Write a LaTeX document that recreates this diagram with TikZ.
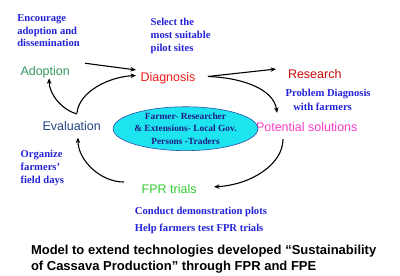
\documentclass[tikz,border=0pt]{standalone}
\usepackage{fontspec}
\setmainfont{Liberation Serif}
\setsansfont{Liberation Sans}
\usetikzlibrary{arrows.meta,shapes.geometric}
\definecolor{adoptgreen}{RGB}{51,150,100}
\definecolor{diagred}{RGB}{245,25,25}
\definecolor{resred}{RGB}{200,10,10}
\definecolor{potmag}{RGB}{250,60,200}
\definecolor{evalnavy}{RGB}{35,70,130}
\definecolor{fprgreen}{RGB}{50,205,50}
\definecolor{noteblue}{RGB}{35,35,215}
\definecolor{hubfill}{RGB}{30,228,240}
\definecolor{hubline}{RGB}{40,80,170}
\definecolor{hubtext}{RGB}{30,30,130}
\begin{document}
\begin{tikzpicture}[x=1pt,y=-1pt,
  lbl/.style={font=\sffamily\fontsize{12.5}{15}\selectfont, inner sep=0pt, outer sep=0pt, anchor=base west},
  note/.style={font=\rmfamily\bfseries\fontsize{10.6}{12.8}\selectfont, text=noteblue, inner sep=0pt, outer sep=0pt, anchor=base west, align=left},
  arr/.style={-{Stealth[length=5.5pt,width=4.5pt]}, line width=1.1pt, black}]
\useasboundingbox[fill=white] (0,0) rectangle (400,276);

% stage labels
\node[lbl, text=adoptgreen] (adopt) at (20.5,75.7) {Adoption};
\node[lbl, text=diagred] (diag) at (140.5,81) {Diagnosis};
\node[lbl, text=resred] (res) at (288,78.3) {Research};
\node[lbl, text=potmag] (pot) at (256,131) {Potential solutions};
\node[lbl, text=evalnavy] (eval) at (42.5,130.7) {Evaluation};
\node[lbl, text=fprgreen] (fpr) at (141.7,193.3) {FPR trials};

% notes (base anchor = baseline of last line)
\node[note, font=\rmfamily\bfseries\fontsize{10.6}{12.5}\selectfont] (n1) at (17.3,46.7) {Encourage\\adoption and\\dissemination};
\node[note, font=\rmfamily\bfseries\fontsize{10.6}{13}\selectfont] (n2) at (150.7,51) {Select the\\most suitable\\pilot sites};
\node[note, font=\rmfamily\bfseries\fontsize{10.6}{14}\selectfont] (n3) at (285.7,110.7) {Problem Diagnosis\\\hspace*{7.6pt}with farmers};
\node[note, font=\rmfamily\bfseries\fontsize{10.6}{13}\selectfont] (n4) at (20.7,183.3) {Organize\\farmers'\\field days};
\node[note, font=\rmfamily\bfseries\fontsize{10.6}{16.6}\selectfont] (n5) at (135,231) {Conduct demonstration plots\\Help farmers test FPR trials};

% central ellipse
\node[ellipse, fill=hubfill, draw=hubline, line width=0.6pt, minimum width=129pt, minimum height=37pt,
      inner sep=0pt, align=center, text=hubtext,
      font=\rmfamily\bfseries\fontsize{9.4}{12.2}\selectfont] (hub) at (185.5,128.7)
      {Farmer- Researcher\\\& Extensions- Local Gov.\\Persons -Traders};

% title
\node[inner sep=0pt, outer sep=0pt, anchor=base west, align=left,
      font=\sffamily\bfseries\fontsize{13}{15.5}\selectfont] (title) at (31,270)
      {Model to extend technologies developed “Sustainability\\of Cassava Production” through FPR and FPE};

% connectors
\draw[arr] ([shift={(15.2,-3.4)}]adopt.north east) -- ([shift={(-4.5,-2)}]diag.north west);
\draw[arr] ([shift={(5.3,-8.7)}]eval.north) .. controls (79,92) and (108,77) .. ([shift={(-4.5,-2.3)}]diag.west);
\draw[arr] ([shift={(5.3,-7.7)}]eval.north) .. controls (62,110) and (49,94) .. ([shift={(4,0)}]adopt.south);
\draw[arr] ([shift={(12.6,-1.3)}]diag.east) -- ([shift={(-12,-4.8)}]res.west);
\draw[arr] ([shift={(12.6,-1.3)}]diag.east) .. controls (245,78) and (274,90) .. ([shift={(21,-9)}]pot.north west);
\draw[arr] ([shift={(27,8)}]pot.south west) .. controls (283,165) and (250,185) .. ([shift={(17.4,-2)}]fpr.east);
\draw[arr] ([shift={(-17.7,-6.8)}]fpr.west) .. controls (100,182) and (78,160) .. ([shift={(6.3,6.8)}]eval.south);
\end{tikzpicture}
\end{document}
